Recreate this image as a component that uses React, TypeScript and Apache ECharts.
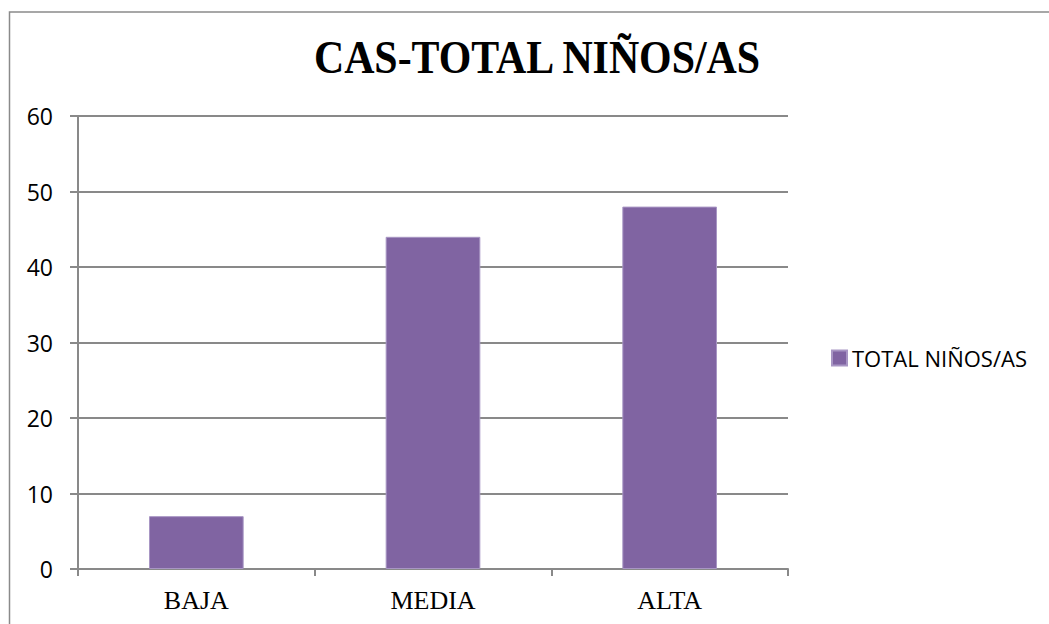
import React, { useEffect, useRef } from "react";
import * as echarts from "echarts";

const categories = ["BAJA", "MEDIA", "ALTA"];
const seriesName = "TOTAL NIÑOS/AS";
const values = [7, 44, 48];
const chartTitle = "CAS-TOTAL NIÑOS/AS";

const GRID = "#898989";

export default function App() {
  const ref = useRef<HTMLDivElement>(null);
  useEffect(() => {
    const chart = echarts.init(ref.current!, null, { renderer: "svg" });
    chart.setOption({
      animation: false,
      backgroundColor: "#ffffff",
      graphic: [
        {
          type: "rect",
          silent: true,
          shape: { x: 9.5, y: 12, width: 1060, height: 640 },
          style: { fill: "none", stroke: "#8a8a8a", lineWidth: 1.5 },
        },
        {
          type: "text",
          x: 537,
          y: 58,
          scaleX: 0.91,
          style: {
            text: chartTitle,
            fontFamily: "Liberation Serif",
            fontWeight: "bold",
            fontSize: 46,
            fill: "#000",
            textAlign: "center",
            textVerticalAlign: "middle",
          },
        },
      ],
      legend: {
        orient: "vertical",
        left: 831,
        top: 347,
        padding: 0,
        itemWidth: 15,
        itemHeight: 15,
        icon: "rect",
        textStyle: { fontFamily: "Open Sans", fontSize: 22, color: "#000" },
        data: [seriesName],
      },
      grid: { left: 78, right: 261, top: 116, bottom: 55, containLabel: false },
      xAxis: {
        type: "category",
        data: categories,
        axisLine: { show: true, lineStyle: { color: GRID, width: 2 } },
        axisTick: { show: true, length: 7, alignWithLabel: false, lineStyle: { color: GRID, width: 2 } },
        axisLabel: { fontFamily: "Liberation Serif", fontSize: 26, color: "#000", margin: 18 },
        splitLine: { show: false },
      },
      yAxis: {
        type: "value",
        min: 0,
        max: 60,
        interval: 10,
        axisLine: { show: true, lineStyle: { color: GRID, width: 2 } },
        axisTick: { show: true, length: 8, lineStyle: { color: GRID, width: 2 } },
        axisLabel: { fontFamily: "Open Sans", fontSize: 23, color: "#000", margin: 25 },
        splitLine: { show: true, lineStyle: { color: GRID, width: 2 } },
      },
      series: [
        {
          name: seriesName,
          type: "bar",
          data: values,
          barWidth: "40%",
          itemStyle: { color: "#8064A2", borderColor: "#a896c4", borderWidth: 1 },
        },
      ],
    });
    return () => chart.dispose();
  }, []);
  return (
    <div
      ref={ref}
      style={{ position: "absolute", left: 0, top: 0, width: 1049, height: 624 }}
    />
  );
}
